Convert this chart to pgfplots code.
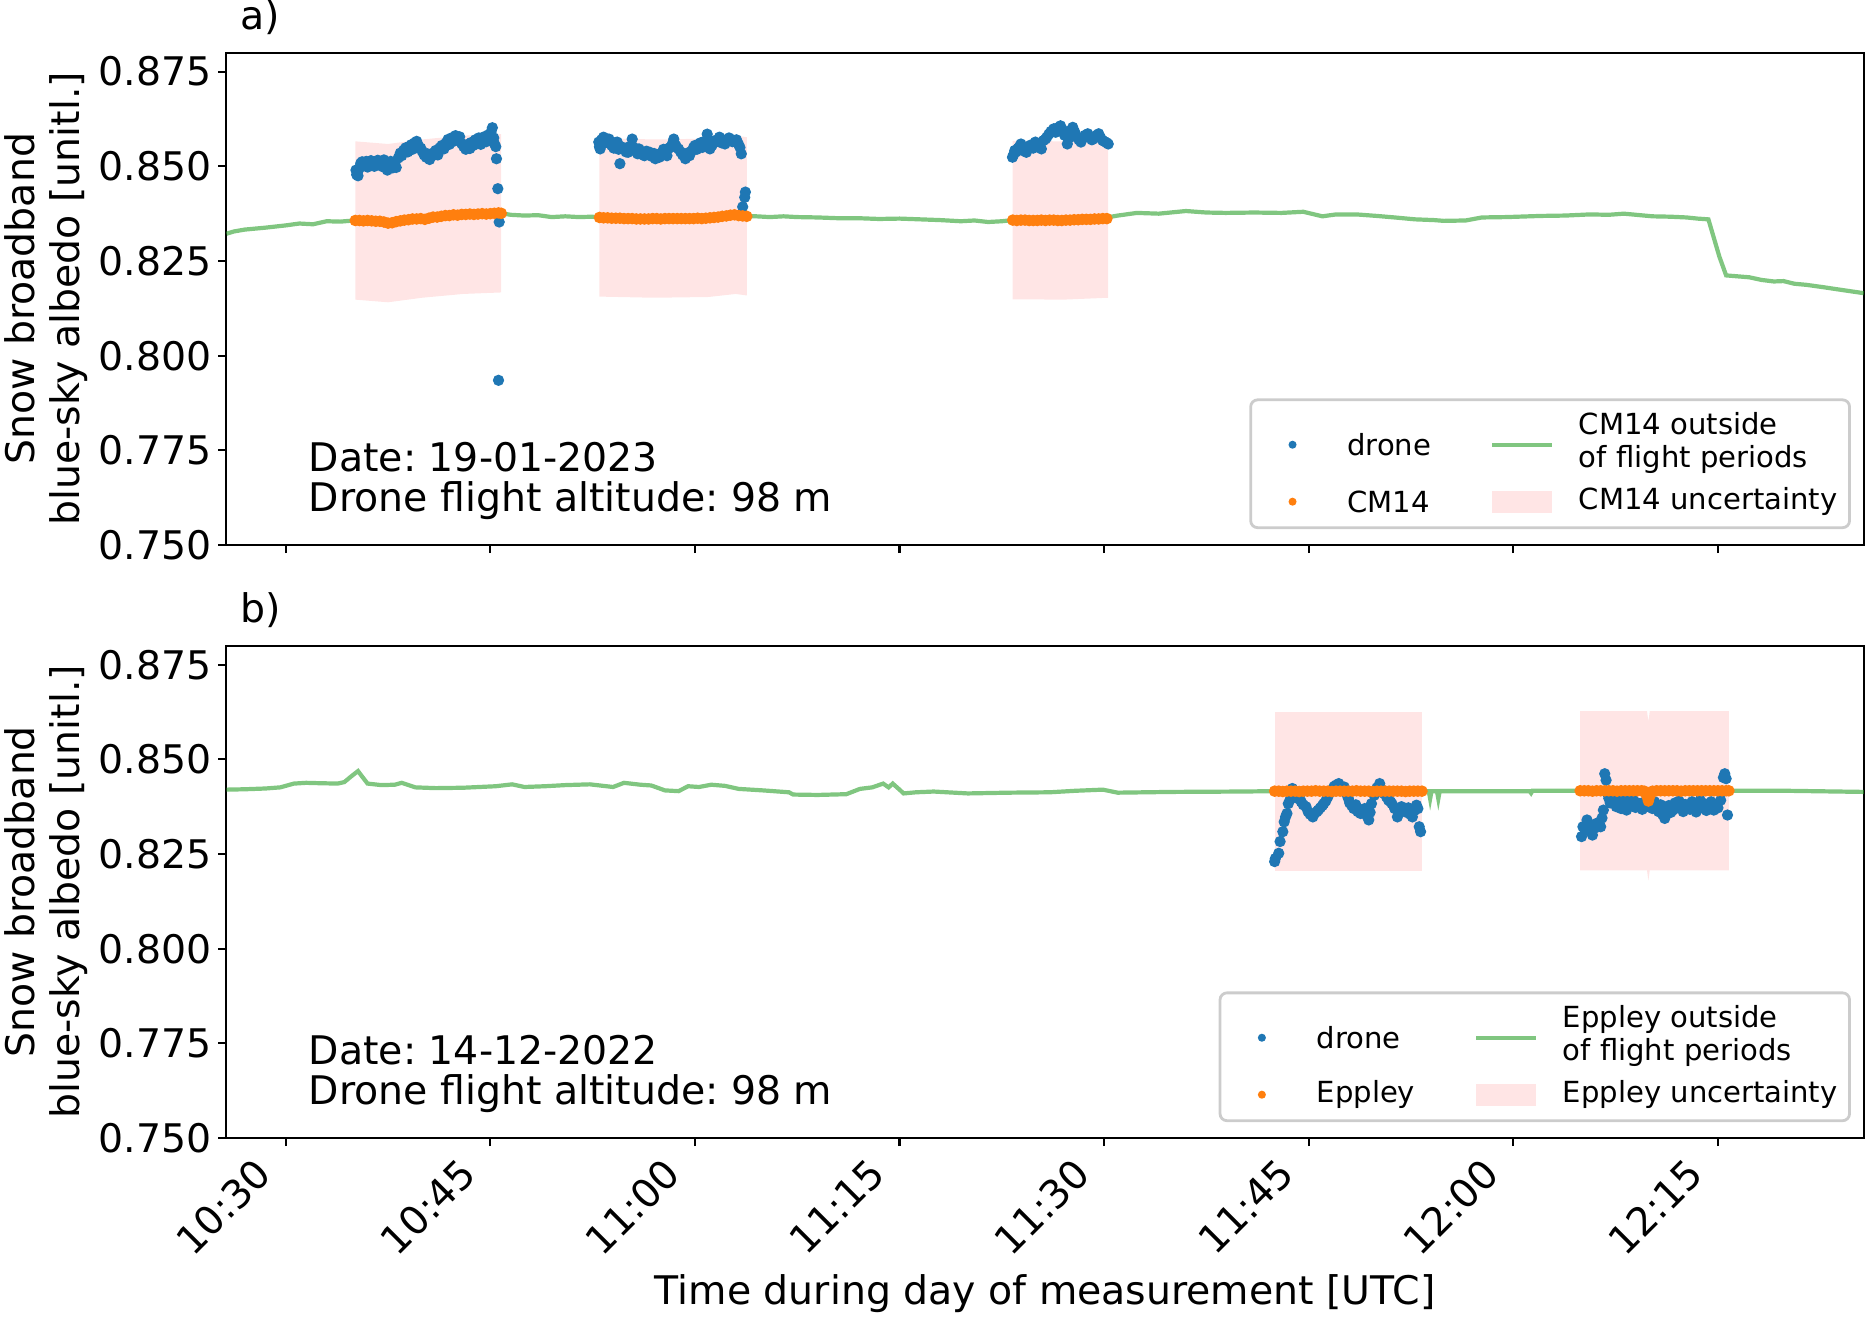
\documentclass[border=0pt]{standalone}
\usepackage{fontspec}
\setmainfont{DejaVu Sans}
\usepackage{pgfplots}
\pgfplotsset{compat=1.18}

\definecolor{tabblue}{RGB}{31,119,180}
\definecolor{taborange}{RGB}{255,127,14}
\definecolor{tabgreen}{RGB}{44,160,44}
\definecolor{pinkfill}{RGB}{255,229,229}

\newcommand{\mainfont}{\fontsize{11.25}{13.5}\selectfont}
\newcommand{\labfont}{\fontsize{11.25}{12.6}\selectfont}
\newcommand{\notefont}{\fontsize{11.25}{11.4}\selectfont}
\newcommand{\legfont}{\fontsize{8.3}{9.4}\selectfont}

% x is minutes after 10:00 UTC
\pgfplotsset{
  albedo/.style={
    width=16.43cm, height=4.94cm, scale only axis, clip=false,
    xmin=25.65, xmax=145.7, ymin=0.75, ymax=0.88,
    xtick={30,45,60,75,90,105,120,135},
    ytick={0.75,0.775,0.8,0.825,0.85,0.875},
    yticklabels={0.750,0.775,0.800,0.825,0.850,0.875},
    tick pos=left, tick align=outside, major tick length=0.08cm,
    axis line style={line width=0.6pt},
    every tick/.style={black, line width=0.6pt},
    tick label style={font=\mainfont},
    yticklabel style={inner xsep=0.06cm},
    /pgf/number format/assume math mode=true,
    ylabel={Snow broadband\\blue-sky albedo [unitl.]},
    ylabel style={align=center, font=\labfont, inner sep=0.05cm},
    legend columns=2, legend cell align=left,
    legend style={at={(1,0)}, anchor=south east, xshift=-0.13cm, yshift=0.16cm,
      font=\legfont, draw=black!20, line width=0.8pt, rounded corners=2pt,
      fill=white, inner xsep=0.12cm, inner ysep=0.12cm, row sep=0.1cm,
      nodes={inner sep=0pt, text depth=},
      /tikz/every odd column/.append style={column sep=0.25cm},
      /tikz/every even column/.append style={column sep=0.59cm}},
  },
  drone/.style={only marks, mark=*, mark size=1.4pt, color=tabblue, forget plot},
  ground/.style={only marks, mark=*, mark size=1.45pt, color=taborange, forget plot},
  outside/.style={no markers, tabgreen, opacity=0.6, line width=1.2pt, forget plot},
  unc/.style={draw=none, fill=pinkfill, forget plot},
  dotlegend/.style={legend image code/.code={
      \path[draw=none, fill=none] (0cm,-0.02cm) rectangle (0.6cm,0.02cm);
      \fill[#1, draw=none] (0.3cm,0cm) circle (1.15pt);}},
  patchlegend/.style={legend image code/.code={
      \fill[pinkfill, draw=none, sharp corners] (0cm,-0.11cm) rectangle (0.6cm,0.11cm);}},
}

\begin{document}
\frenchspacing
\begin{tikzpicture}

%% a) 19-01-2023, CM14
\begin{axis}[albedo, at={(0,5.95cm)}, xticklabel=\empty]

\addplot[unc] coordinates {
(35.1,0.8566) (37.5,0.8559) (40,0.8571) (43,0.8581) (45.8,0.8585)
(45.8,0.8167) (43,0.8163) (40,0.8153) (37.5,0.8141) (35.1,0.8148)} -- cycle;
\addplot[unc] coordinates {
(53.0,0.8574) (57,0.8571) (61,0.8573) (63,0.8581) (63.8,0.8577)
(63.8,0.8159) (63,0.8163) (61,0.8155) (57,0.8153) (53.0,0.8156)} -- cycle;
\addplot[unc] coordinates {
(83.3,0.8567) (87,0.8566) (90.3,0.8571)
(90.3,0.8153) (87,0.8148) (83.3,0.8149)} -- cycle;

\addplot[drone] coordinates {
(35.15,0.8490) (35.2,0.8478) (35.25,0.8483) (35.3,0.8475) (35.4,0.8495)
(35.5,0.8508) (35.6,0.8512) (35.75,0.8505) (35.9,0.8513) (36.0,0.8498)
(36.1,0.8507) (36.25,0.8515) (36.4,0.8509) (36.5,0.8500) (36.6,0.8512)
(36.75,0.8516) (36.9,0.8504) (37.0,0.8511) (37.1,0.8499) (37.2,0.8517)
(37.35,0.8506) (37.45,0.8490) (37.6,0.8502) (37.7,0.8513) (37.85,0.8496)
(38.0,0.8510) (38.1,0.8497) (38.25,0.8522) (38.4,0.8535) (38.5,0.8528)
(38.65,0.8543) (38.8,0.8549) (38.95,0.8538) (39.05,0.8552) (39.2,0.8557)
(39.3,0.8545) (39.45,0.8562) (39.6,0.8566) (39.75,0.8553) (39.9,0.8548)
(40.0,0.8540) (40.15,0.8530) (40.3,0.8524) (40.4,0.8533) (40.55,0.8518)
(40.7,0.8527) (40.85,0.8536) (41.0,0.8542) (41.15,0.8530) (41.3,0.8549)
(41.45,0.8555) (41.6,0.8546) (41.75,0.8562) (41.9,0.8571) (42.0,0.8558)
(42.15,0.8575) (42.3,0.8566) (42.45,0.8581) (42.6,0.8572) (42.75,0.8578)
(42.9,0.8560) (43.05,0.8552) (43.2,0.8545) (43.35,0.8558) (43.5,0.8547)
(43.6,0.8563) (43.75,0.8555) (43.9,0.8570) (44.0,0.8562) (44.15,0.8575)
(44.3,0.8558) (44.45,0.8568) (44.55,0.8578) (44.7,0.8565) (44.85,0.8583)
(44.95,0.8572) (45.05,0.8590) (45.15,0.8602) (45.25,0.8575) (45.3,0.8560)
(45.4,0.8552) (45.45,0.8520) (45.55,0.8441) (45.6,0.7935) (45.65,0.8353)
};
\addplot[drone] coordinates {
(52.95,0.8564) (53.0,0.8552) (53.05,0.8546) (53.15,0.8570) (53.3,0.8577)
(53.4,0.8562) (53.55,0.8568) (53.7,0.8572) (53.8,0.8560) (53.9,0.8555)
(54.05,0.8548) (54.2,0.8563) (54.3,0.8564) (54.4,0.8545) (54.5,0.8507)
(54.65,0.8551) (54.8,0.8546) (54.95,0.8538) (55.1,0.8537) (55.2,0.8552)
(55.4,0.8572) (55.5,0.8550) (55.65,0.8540) (55.8,0.8533) (55.9,0.8546)
(56.05,0.8538) (56.2,0.8530) (56.3,0.8528) (56.45,0.8540) (56.6,0.8531)
(56.7,0.8537) (56.85,0.8526) (57.0,0.8534) (57.1,0.8520) (57.25,0.8530)
(57.4,0.8524) (57.55,0.8535) (57.7,0.8545) (57.8,0.8542) (57.95,0.8528)
(58.1,0.8548) (58.2,0.8550) (58.35,0.8560) (58.45,0.8572) (58.6,0.8555)
(58.8,0.8546) (58.95,0.8538) (59.1,0.8530) (59.3,0.8520) (59.45,0.8535)
(59.6,0.8528) (59.75,0.8540) (59.9,0.8550) (60.0,0.8555) (60.15,0.8545)
(60.3,0.8559) (60.4,0.8562) (60.55,0.8550) (60.7,0.8566) (60.9,0.8585)
(61.0,0.8560) (61.1,0.8546) (61.25,0.8555) (61.4,0.8567) (61.5,0.8564)
(61.65,0.8570) (61.8,0.8577) (61.95,0.8562) (62.1,0.8566) (62.2,0.8559)
(62.35,0.8571) (62.5,0.8575) (62.6,0.8572) (62.75,0.8565) (62.9,0.8568)
(63.05,0.8570) (63.2,0.8558) (63.3,0.8550) (63.4,0.8533) (63.5,0.8393)
(63.65,0.8418) (63.7,0.8432)
};
\addplot[drone] coordinates {
(83.28,0.8524) (83.35,0.8530) (83.45,0.8542) (83.55,0.8538) (83.7,0.8548)
(83.8,0.8552) (83.9,0.8559) (84.0,0.8545) (84.15,0.8540) (84.3,0.8537)
(84.45,0.8550) (84.6,0.8556) (84.8,0.8548) (84.96,0.8564) (85.1,0.8555)
(85.25,0.8560) (85.4,0.8546) (85.55,0.8568) (85.7,0.8572) (85.8,0.8577)
(85.95,0.8585) (86.1,0.8592) (86.3,0.8599) (86.45,0.8590) (86.6,0.8602)
(86.8,0.8607) (86.95,0.8596) (87.1,0.8582) (87.3,0.8559) (87.45,0.8575)
(87.6,0.8596) (87.7,0.8603) (87.85,0.8590) (88.0,0.8578) (88.15,0.8570)
(88.3,0.8564) (88.45,0.8575) (88.6,0.8582) (88.8,0.8586) (88.95,0.8578)
(89.1,0.8570) (89.2,0.8572) (89.35,0.8580) (89.5,0.8583) (89.6,0.8586)
(89.75,0.8575) (89.9,0.8568) (90.05,0.8565) (90.2,0.8562) (90.3,0.8559)
};

\addplot[ground] coordinates {
(35.1,0.8357) (35.4,0.8357) (35.7,0.8356) (36.0,0.8357) (36.3,0.8356)
(36.6,0.8355) (36.9,0.8355) (37.2,0.8353) (37.5,0.8350) (37.8,0.8351)
(38.1,0.8354) (38.4,0.8356) (38.7,0.8358) (39.0,0.8359) (39.3,0.8361)
(39.6,0.8361) (39.9,0.8362) (40.2,0.8360) (40.5,0.8363) (40.8,0.8366)
(41.1,0.8366) (41.4,0.8368) (41.7,0.8370) (42.0,0.8370) (42.3,0.8372)
(42.6,0.8371) (42.9,0.8373) (43.2,0.8373) (43.5,0.8374) (43.8,0.8373)
(44.1,0.8374) (44.4,0.8375) (44.7,0.8374) (45.0,0.8375) (45.3,0.8376)
(45.6,0.8377) (45.8,0.8376)
(53.0,0.8365) (53.3,0.8364) (53.6,0.8364) (53.9,0.8363) (54.2,0.8363)
(54.5,0.8363) (54.8,0.8362) (55.1,0.8362) (55.4,0.8362) (55.7,0.8361)
(56.0,0.8361) (56.3,0.8361) (56.6,0.8361) (56.9,0.8362) (57.2,0.8362)
(57.5,0.8361) (57.8,0.8362) (58.1,0.8362) (58.4,0.8362) (58.7,0.8362)
(59.0,0.8362) (59.3,0.8362) (59.6,0.8362) (59.9,0.8362) (60.2,0.8363)
(60.5,0.8362) (60.8,0.8363) (61.1,0.8364) (61.4,0.8365) (61.7,0.8366)
(62.0,0.8368) (62.3,0.8369) (62.6,0.8371) (62.9,0.8372) (63.2,0.8370)
(63.5,0.8369) (63.8,0.8368)
(83.3,0.8358) (83.6,0.8357) (83.9,0.8358) (84.2,0.8358) (84.5,0.8357)
(84.8,0.8357) (85.1,0.8357) (85.4,0.8358) (85.7,0.8357) (86.0,0.8358)
(86.3,0.8358) (86.6,0.8357) (86.9,0.8357) (87.2,0.8358) (87.5,0.8358)
(87.8,0.8359) (88.1,0.8359) (88.4,0.8360) (88.7,0.8360) (89.0,0.8360)
(89.3,0.8361) (89.6,0.8361) (89.9,0.8362) (90.2,0.8362)
};

\addplot[outside] coordinates {
(25.65,0.8322) (26.2,0.8328) (27.0,0.8333) (28.5,0.8338) (30.0,0.8344)
(31.0,0.8349) (32.0,0.8347) (33.0,0.8355) (34.0,0.8354) (35.0,0.8357)
(35.5,0.8357) (36.5,0.8356) (37.5,0.8352) (38.5,0.8360) (39.5,0.8363)
(40.5,0.8364) (41.5,0.8368) (42.5,0.8371) (43.5,0.8373) (44.5,0.8374)
(45.8,0.8376) (46.5,0.8372) (47.5,0.8370) (48.5,0.8371) (49.5,0.8366)
(50.5,0.8368) (51.5,0.8366) (52.5,0.8367) (53.0,0.8364) (54,0.8363)
(55,0.8362) (56,0.8361) (57,0.8361) (58,0.8362) (59,0.8362) (60,0.8362)
(61,0.8363) (62,0.8367) (63,0.8370) (63.8,0.8368) (64.5,0.8368)
(65.5,0.8366) (66.5,0.8368) (67.5,0.8366) (69,0.8365) (70.5,0.8363)
(72,0.8363) (73.5,0.8361) (75,0.8362) (76.5,0.8360) (78,0.8358)
(79.5,0.8355) (80.5,0.8357) (81.5,0.8353) (82.5,0.8355) (83.3,0.8358)
(84,0.8358) (85,0.8357) (86,0.8358) (87,0.8357) (88,0.8359) (89,0.8360)
(89.9,0.8363) (91.0,0.8370) (92.4,0.8377) (94.0,0.8375) (96.0,0.8382)
(97.5,0.8378) (98.9,0.8377) (101,0.8378) (103,0.8377) (104.6,0.8380)
(106,0.8368) (107,0.8373) (108.5,0.8373) (110,0.8369) (111.3,0.8365)
(112.8,0.8360) (114.2,0.8358) (114.9,0.8356) (116.5,0.8357) (117.7,0.8365)
(119.5,0.8366) (122,0.8369) (123.8,0.8370) (125.6,0.8373) (127,0.8372)
(128.1,0.8375) (130.2,0.8368) (131.5,0.8367) (132.7,0.8365) (133.5,0.8362)
(134.3,0.8360) (135.1,0.8262) (135.6,0.8212) (137.3,0.8207) (138.2,0.8200)
(139.1,0.8196) (139.8,0.8197) (140.6,0.8190) (141.5,0.8187) (142.7,0.8181)
(144.0,0.8174) (145.7,0.8165)
};

\addlegendimage{dotlegend=tabblue}
\addlegendentry{drone}
\addlegendimage{no markers, tabgreen, opacity=0.6, line width=1.2pt}
\addlegendentry{\begin{tabular}{@{}l@{}}CM14 outside\\of flight periods\end{tabular}}
\addlegendimage{dotlegend=taborange}
\addlegendentry{CM14}
\addlegendimage{patchlegend}
\addlegendentry{CM14 uncertainty}

\node[anchor=south west, inner sep=0, align=left, font=\notefont]
  at (rel axis cs:0.05,0.05) {Date: 19-01-2023\\Drone flight altitude: 98 m};
\node[anchor=south west, inner sep=0, font=\mainfont]
  at (rel axis cs:0.008,1) [yshift=0.17cm] {a)};
\end{axis}

%% b) 14-12-2022, Eppley
\begin{axis}[albedo, at={(0,0)},
  xticklabels={10:30,10:45,11:00,11:15,11:30,11:45,12:00,12:15},
  xticklabel style={xshift=-0.33cm, yshift=-0.02cm, rotate=45, anchor=north east, inner sep=0.05cm},
  xlabel={Time during day of measurement [UTC]},
  xlabel style={font=\mainfont, inner sep=0.05cm, yshift=-0.04cm}]

\addplot[unc] coordinates {
(102.5,0.8626) (113.3,0.8626) (113.3,0.8206) (102.5,0.8206)} -- cycle;
\addplot[unc] coordinates {
(124.9,0.8627) (129.8,0.8627) (129.9,0.8600) (130.0,0.8627) (135.8,0.8627)
(135.8,0.8207) (130.0,0.8207) (129.9,0.8180) (129.8,0.8207) (124.9,0.8207)} -- cycle;

\addplot[drone] coordinates {
(102.5,0.8230) (102.55,0.8238) (102.8,0.8252) (102.9,0.8283) (103.1,0.8309)
(103.2,0.8335) (103.3,0.8348) (103.4,0.8357) (103.5,0.8383) (103.65,0.8395)
(103.8,0.8423) (103.95,0.8410) (104.1,0.8398) (104.3,0.8401) (104.45,0.8388)
(104.6,0.8380) (104.8,0.8375) (104.95,0.8362) (105.1,0.8355) (105.3,0.8348)
(105.45,0.8358) (105.6,0.8362) (105.7,0.8366) (105.85,0.8372) (106.0,0.8378)
(106.1,0.8383) (106.25,0.8390) (106.4,0.8401) (106.55,0.8412) (106.7,0.8419)
(106.85,0.8428) (107.0,0.8432) (107.2,0.8436) (107.35,0.8425) (107.5,0.8418)
(107.6,0.8427) (107.75,0.8410) (107.9,0.8397) (108.0,0.8385) (108.15,0.8378)
(108.3,0.8370) (108.45,0.8380) (108.6,0.8362) (108.8,0.8357) (108.95,0.8366)
(109.1,0.8370) (109.25,0.8352) (109.4,0.8340) (109.5,0.8360) (109.6,0.8383)
(109.8,0.8405) (110.0,0.8425) (110.2,0.8436) (110.35,0.8420) (110.5,0.8410)
(110.7,0.8401) (110.85,0.8392) (111.0,0.8388) (111.1,0.8383) (111.3,0.8370)
(111.5,0.8348) (111.6,0.8362) (111.8,0.8375) (111.95,0.8366) (112.1,0.8361)
(112.3,0.8372) (112.45,0.8355) (112.6,0.8348) (112.75,0.8365) (112.9,0.8379)
(113.0,0.8370) (113.1,0.8322) (113.2,0.8309)
};
\addplot[drone] coordinates {
(125.0,0.8296) (125.1,0.8322) (125.25,0.8315) (125.4,0.8340) (125.5,0.8325)
(125.65,0.8310) (125.8,0.8300) (125.95,0.8318) (126.1,0.8331) (126.25,0.8328)
(126.4,0.8322) (126.5,0.8345) (126.6,0.8366) (126.7,0.8462) (126.8,0.8445)
(126.9,0.8410) (127.0,0.8397) (127.1,0.8385) (127.25,0.8392) (127.4,0.8383)
(127.55,0.8375) (127.7,0.8390) (127.9,0.8370) (128.05,0.8380) (128.2,0.8395)
(128.3,0.8366) (128.45,0.8378) (128.6,0.8388) (128.8,0.8392) (128.95,0.8373)
(129.1,0.8385) (129.3,0.8379) (129.45,0.8368) (129.6,0.8387) (129.75,0.8375)
(129.9,0.8397) (130.05,0.8382) (130.2,0.8370) (130.35,0.8388) (130.5,0.8375)
(130.65,0.8362) (130.8,0.8380) (130.95,0.8354) (131.1,0.8344) (131.25,0.8366)
(131.4,0.8378) (131.55,0.8360) (131.7,0.8366) (131.85,0.8385) (132.0,0.8372)
(132.15,0.8390) (132.3,0.8375) (132.45,0.8362) (132.6,0.8381) (132.8,0.8379)
(132.95,0.8368) (133.1,0.8388) (133.25,0.8370) (133.4,0.8361) (133.55,0.8376)
(133.7,0.8392) (133.85,0.8372) (134.0,0.8383) (134.15,0.8365) (134.3,0.8378)
(134.5,0.8388) (134.7,0.8366) (134.85,0.8380) (135.0,0.8372) (135.2,0.8392)
(135.4,0.8452) (135.5,0.8462) (135.6,0.8449) (135.7,0.8353)
};

\addplot[ground] coordinates {
(102.5,0.8416) (102.8,0.8416) (103.1,0.8415) (103.4,0.8416) (103.7,0.8416)
(104.0,0.8416) (104.3,0.8415) (104.6,0.8416) (104.9,0.8416) (105.2,0.8416)
(105.5,0.8417) (105.8,0.8416) (106.1,0.8416) (106.4,0.8416) (106.7,0.8415)
(107.0,0.8416) (107.3,0.8416) (107.6,0.8416) (107.9,0.8416) (108.2,0.8416)
(108.5,0.8417) (108.8,0.8416) (109.1,0.8416) (109.4,0.8416) (109.7,0.8415)
(110.0,0.8416) (110.3,0.8416) (110.6,0.8416) (110.9,0.8416) (111.2,0.8416)
(111.5,0.8416) (111.8,0.8416) (112.1,0.8415) (112.4,0.8416) (112.7,0.8416)
(113.0,0.8416) (113.3,0.8416)
(124.9,0.8417) (125.2,0.8417) (125.5,0.8417) (125.8,0.8416) (126.1,0.8417)
(126.4,0.8417) (126.7,0.8417) (127.0,0.8417) (127.3,0.8417) (127.6,0.8416)
(127.9,0.8417) (128.2,0.8417) (128.5,0.8417) (128.8,0.8417) (129.1,0.8417)
(129.4,0.8417) (129.6,0.8416) (129.8,0.8402) (129.9,0.8390) (130.0,0.8402)
(130.2,0.8416) (130.5,0.8417) (130.8,0.8417) (131.1,0.8417) (131.4,0.8417)
(131.7,0.8417) (132.0,0.8417) (132.3,0.8416) (132.6,0.8417) (132.9,0.8417)
(133.2,0.8417) (133.5,0.8417) (133.8,0.8417) (134.1,0.8417) (134.4,0.8417)
(134.7,0.8417) (135.0,0.8417) (135.3,0.8417) (135.6,0.8417) (135.8,0.8417)
};

\addplot[outside] coordinates {
(25.65,0.8420) (27.0,0.8421) (28.5,0.8423) (29.6,0.8426) (30.6,0.8436)
(31.5,0.8438) (32.5,0.8437) (33.8,0.8436) (34.3,0.8440) (34.8,0.8455)
(35.3,0.8469) (35.7,0.8450) (36.0,0.8436) (37.0,0.8432) (38.0,0.8433)
(38.5,0.8438) (39.5,0.8426) (41.0,0.8424) (43.0,0.8425) (45.4,0.8429)
(46.6,0.8434) (47.5,0.8427) (49.0,0.8429) (50.5,0.8432) (52.3,0.8434)
(54.0,0.8427) (54.8,0.8438) (56.0,0.8433) (56.8,0.8431) (57.8,0.8418)
(58.8,0.8416) (59.5,0.8429) (60.3,0.8427) (61.2,0.8433) (62.2,0.8430)
(63.2,0.8422) (65.0,0.8418) (66.9,0.8413) (67.2,0.8407) (69.0,0.8406)
(71.1,0.8408) (72.1,0.8422) (73.0,0.8426) (73.8,0.8436) (74.2,0.8426)
(74.5,0.8436) (75.0,0.8420) (75.3,0.8410) (76.2,0.8413) (77.5,0.8415)
(80.0,0.8410) (83.0,0.8412) (86.0,0.8413) (87.9,0.8417) (89.9,0.8420)
(91.0,0.8412) (95.0,0.8414) (100.0,0.8415) (102.5,0.8416) (108,0.8416)
(113.3,0.8416) (113.8,0.8416) (113.9,0.8396) (114.0,0.8416) (114.4,0.8416)
(114.5,0.8396) (114.6,0.8416) (117,0.8416) (121.2,0.8416) (121.3,0.8411)
(121.4,0.8417) (124.9,0.8417) (129.6,0.8416) (129.8,0.8402) (129.9,0.8390)
(130.0,0.8402) (130.2,0.8416) (135.8,0.8417) (140,0.8417) (145.7,0.8414)
};

\addlegendimage{dotlegend=tabblue}
\addlegendentry{drone}
\addlegendimage{no markers, tabgreen, opacity=0.6, line width=1.2pt}
\addlegendentry{\begin{tabular}{@{}l@{}}Eppley outside\\of flight periods\end{tabular}}
\addlegendimage{dotlegend=taborange}
\addlegendentry{Eppley}
\addlegendimage{patchlegend}
\addlegendentry{Eppley uncertainty}

\node[anchor=south west, inner sep=0, align=left, font=\notefont]
  at (rel axis cs:0.05,0.05) {Date: 14-12-2022\\Drone flight altitude: 98 m};
\node[anchor=south west, inner sep=0, font=\mainfont]
  at (rel axis cs:0.008,1) [yshift=0.17cm] {b)};
\end{axis}
\end{tikzpicture}
\end{document}
